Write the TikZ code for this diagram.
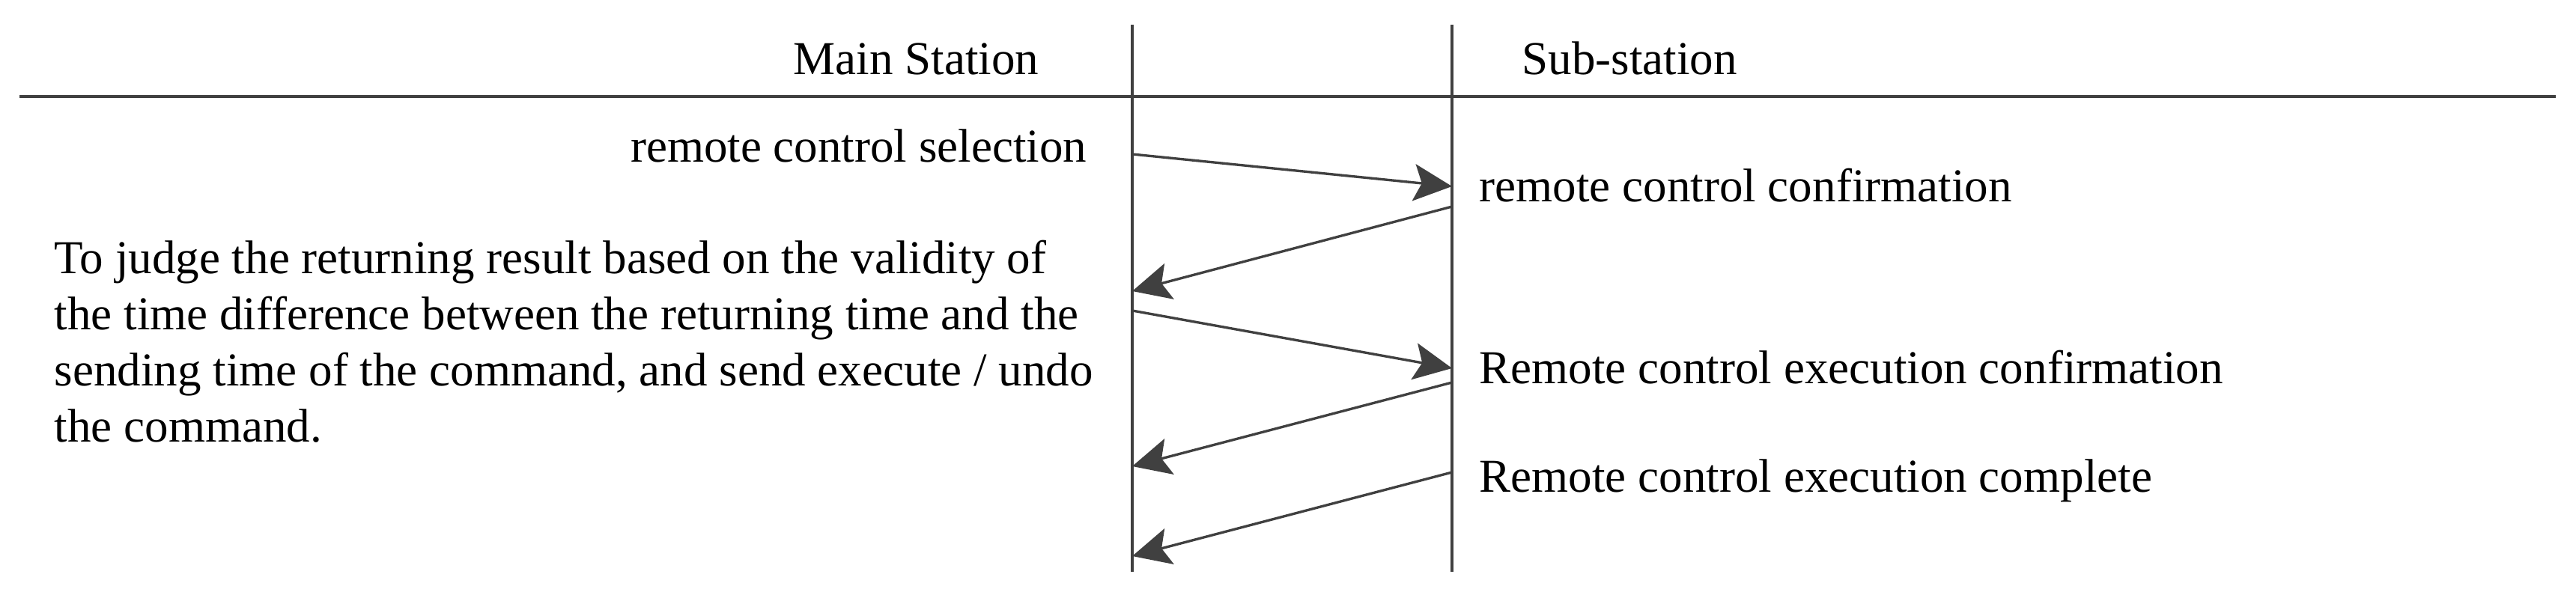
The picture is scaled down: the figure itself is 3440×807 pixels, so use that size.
\documentclass[tikz,border=0pt]{standalone}
\usepackage{fontspec}
\setmainfont{Liberation Serif}
\usetikzlibrary{arrows.meta}
\definecolor{lc}{HTML}{404040}
\begin{document}
\begin{tikzpicture}[x=0.01cm,y=-0.01cm,
  line/.style={draw=lc, line width=0.95pt},
  msg/.style={line, -{Stealth[length=14.5pt,width=14pt,inset=3pt]}},
  lbl/.style={inner sep=0pt, font=\fontsize{17.93pt}{21.34pt}\selectfont}]
\useasboundingbox (0,0) rectangle (3440,807);

% header rule and lifelines
\coordinate (hl) at (26,129);
\coordinate (hr) at (3413,129);
\coordinate (mtop) at (1512,33);
\coordinate (mbot) at (1512,764);
\coordinate (stop) at (1939,33);
\coordinate (sbot) at (1939,764);
\draw[line, line width=1.05pt] (hl) -- (hr);
\draw[line] (mtop) -- (mbot);
\draw[line] (stop) -- (sbot);

% headers
\node[lbl, anchor=base east] (ms) at (1388,100) {Main Station};
\node[lbl, anchor=base west] (ss) at (2032,100) {Sub-station};

% labels
\node[lbl, anchor=base east] (sel) at (1452,217) {remote control selection};
\node[lbl, anchor=base west] (conf) at (1975,270) {remote control confirmation};
\node[lbl, anchor=base west] (exc) at (1975,513) {Remote control execution confirmation};
\node[lbl, anchor=base west] (cmp) at (1975,658) {Remote control execution complete};
\node[lbl, anchor=north west, align=left] (judge) at (72,320)
  {To judge the returning result based on the validity of\\
   the time difference between the returning time and the\\
   sending time of the command, and send execute / undo\\
   the command.};

% message points
\coordinate (m1) at (1512,206);
\coordinate (s1) at (1939,249);
\coordinate (s2) at (1939,276);
\coordinate (m2) at (1512,389);
\coordinate (m3) at (1512,415);
\coordinate (s3) at (1939,492);
\coordinate (s4) at (1939,511);
\coordinate (m4) at (1512,623);
\coordinate (s5) at (1939,631);
\coordinate (m5) at (1512,743);

\draw[msg] (m1) -- (s1);
\draw[msg] (s2) -- (m2);
\draw[msg] (m3) -- (s3);
\draw[msg] (s4) -- (m4);
\draw[msg] (s5) -- (m5);
\end{tikzpicture}
\end{document}
